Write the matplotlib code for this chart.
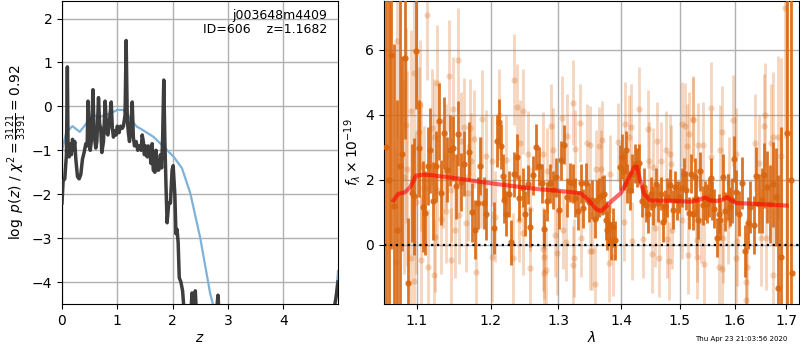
import numpy as np
import matplotlib
matplotlib.use("Agg")
import matplotlib.pyplot as plt
from matplotlib.ticker import FixedLocator, NullLocator, FormatStrFormatter

# ---------------- left panel: log p(z) ----------------
z_pz = [0.0, 0.02, 0.05, 0.08, 0.097, 0.11, 0.13, 0.15, 0.17, 0.19,
        0.21, 0.23, 0.25, 0.28, 0.31, 0.34, 0.37, 0.40, 0.43, 0.455,
        0.47, 0.49, 0.51, 0.53, 0.56, 0.58, 0.61, 0.63, 0.66, 0.68,
        0.70, 0.72, 0.75, 0.78, 0.81, 0.83, 0.86, 0.89, 0.91, 0.93,
        0.96, 0.98, 1.00, 1.03, 1.06, 1.09, 1.11, 1.14, 1.16, 1.18,
        1.20, 1.22, 1.24, 1.27, 1.29, 1.31, 1.34, 1.37, 1.40, 1.43,
        1.45, 1.47, 1.49, 1.51, 1.54, 1.56, 1.58, 1.61, 1.63, 1.65,
        1.68, 1.70, 1.72, 1.75, 1.78, 1.80, 1.82, 1.84, 1.86, 1.88,
        1.90, 1.93, 1.96, 1.99, 2.01, 2.04, 2.06, 2.08, 2.10, 2.12,
        2.15, 2.18, 2.21, 2.33, 2.35, 2.37, 2.39, 2.41, 2.43, 2.79,
        2.82, 2.84, 3.0, 4.0, 4.92, 4.955, 4.99]
logpz = [-2.2, -1.7, -1.65, -1.1, 0.9, -1.0, -1.15, -0.85, -1.1, -0.75,
         -1.0, -0.8, -1.2, -1.6, -1.65, -1.55, -1.2, -1.05, -0.85, -0.9,
         0.12, -0.6, -1.0, -0.8, 0.38, -0.6, -0.95, -0.8, 0.2, -0.4,
         -0.5, -1.05, -0.8, 0.12, -0.6, -0.65, -0.3, 0.1, -0.5, -0.7,
         -0.55, -0.65, -0.45, -0.6, -0.45, -0.5, -0.45, -0.2, 1.5, -0.3,
         -0.6, -0.8, -0.5, 0.1, -0.7, -0.9, -0.8, -1.0, -0.9, -1.0,
         -0.65, -0.8, -1.1, -0.9, -1.15, -0.9, -1.0, -1.3, -0.85, -1.45,
         -1.5, -1.0, -1.45, -1.45, -1.1, -1.4, -0.7, 0.6, -0.8, -1.8,
         -2.65, -2.2, -2.2, -1.45, -1.35, -2.0, -2.9, -2.8, -3.1, -3.9,
         -4.0, -4.2, -4.7, -4.7, -4.25, -4.7, -4.7, -4.2, -4.7, -4.7,
         -4.3, -4.7, -8.0, -8.0, -4.6, -4.35, -4.0]

z_prior = [0.0, 0.08, 0.19, 0.32, 0.44, 0.56, 0.68, 0.87, 1.00, 1.11,
           1.23, 1.35, 1.41, 1.65, 1.84, 2.02, 2.17, 2.32, 2.50, 2.68,
           2.75, 3.0, 4.0, 4.93, 4.96, 4.99]
logp_prior = [-1.0, -0.58, -0.45, -0.58, -0.39, -0.2, -0.24, -0.16, -0.08, -0.08,
              -0.27, -0.46, -0.5, -0.69, -0.92, -1.15, -1.41, -1.98, -3.0, -4.27,
              -4.6, -8.0, -8.0, -4.6, -4.2, -3.75]

# ---------------- right panel: spectrum ----------------
lam_dark = [1.0615, 1.0645, 1.0676, 1.0710, 1.0751, 1.0786, 1.0815, 1.0853, 1.0888, 1.0935,
            1.0969, 1.0995, 1.1034, 1.1078, 1.1112, 1.1144, 1.1178, 1.1217, 1.1257, 1.1297,
            1.1324, 1.1364, 1.1404, 1.1444, 1.1485, 1.1518, 1.1553, 1.1593, 1.1634, 1.1703,
            1.1744, 1.1786, 1.1828, 1.1855, 1.1904, 1.1940,
            1.2054, 1.2096, 1.2120, 1.2145, 1.2178, 1.2196, 1.2217, 1.2260, 1.2293, 1.2341,
            1.2380, 1.2414, 1.2464, 1.2502, 1.2538, 1.2576, 1.2621, 1.2665, 1.2706, 1.2751,
            1.2785, 1.2831, 1.2876, 1.2917, 1.2958, 1.3004, 1.3040, 1.3090, 1.3132, 1.3174,
            1.3225, 1.3261, 1.3303, 1.3351, 1.3387, 1.3429, 1.3472,
            1.3520, 1.3577, 1.3609, 1.3642, 1.3685, 1.3717, 1.3750, 1.3771, 1.3803, 1.3836,
            1.3868, 1.3896, 1.3978, 1.4007, 1.4044, 1.4078, 1.4099, 1.4144, 1.4183, 1.4228,
            1.4267, 1.4300, 1.4341, 1.4380, 1.4413, 1.4453, 1.4494, 1.4538, 1.4579, 1.4624,
            1.4665, 1.4700, 1.4740, 1.4780, 1.4827, 1.4874, 1.4915, 1.4955, 1.4990, 1.5033,
            1.5074, 1.5109, 1.5157, 1.5199, 1.5229,
            1.5265, 1.5294, 1.5330, 1.5366, 1.5415, 1.5457, 1.5488, 1.5525, 1.5567, 1.5585,
            1.5622, 1.5672, 1.5709, 1.5733, 1.5783, 1.5826, 1.5870, 1.5908, 1.5957, 1.5994,
            1.6032, 1.6083, 1.6146, 1.6198, 1.6255, 1.6299, 1.6364, 1.6415, 1.6467, 1.6520,
            1.6570, 1.6623, 1.6676, 1.6741, 1.6806, 1.6846, 1.6900, 1.7025, 1.7089, 1.7126]
flux_dark = [3.0, 2.0, 5.85, 1.18, 0.46, 2.41, 2.80, 5.74, -1.17, 1.59,
             1.49, 5.97, 2.96, 1.16, 0.97, 2.41, 2.90, 1.33, 2.41, 3.79,
             1.59, 3.44, 2.30, 2.90, 2.96, 1.79, 3.41, 1.92, 2.49, 2.86,
             0.99, 0.46, 1.28, 2.42, 1.28, 0.93,
             0.50, 3.20, 3.77, 3.02, 2.10, 1.36, 0.95, 1.55, 0.07, 2.16,
             2.71, 1.44, 1.75, 0.95, 1.85, 0.54, 2.13, 3.00, 2.41, 1.89,
             0.48, 1.33, 1.89, 1.68, 2.08, 1.07, 2.59, 3.08, 1.46, 1.92,
             1.89, 1.44, 1.04, 1.89, 1.12, 1.91, 1.31,
             1.38, 0.80, 1.38, 1.46, 1.52, 1.55, 0.75, 0.44, 0.62, 0.11,
             0.54, 0.13, 2.38, 2.71, 2.28, 2.90, 1.87, 1.67, 2.18, 2.49,
             2.38, 2.51, 1.34, 1.77, 1.21, 0.95, 1.57, 1.21, 1.85, 1.28,
             1.57, 0.69, 1.18, 1.46, 1.82, 1.07, 1.77, 1.36, 1.46, 1.75,
             2.18, 1.67, 0.97, 2.18, 0.95,
             2.08, 1.44, 0.77, 2.26, 1.21, 1.36, 1.26, 1.46, 2.06, 1.36,
             1.10, 0.21, 0.95, 0.75, 2.08, 1.02, 1.46, 1.17, 1.36, 2.64,
             1.61, 0.95, 1.89, -0.19, 0.67, 1.17, 0.60, 2.10, 1.26, 1.36,
             2.13, 1.77, 1.26, 1.85, 1.46, -1.35, -0.38, 3.43, 2.0, -0.87]
err_dark = [8.0, 8.0, 6.0, 5.0, 4.0, 6.0, 3.0, 2.5, 2.0, 1.5,
            1.8, 1.8, 1.5, 1.4, 1.3, 1.2, 1.3, 1.2, 1.1, 1.2,
            1.0, 1.1, 1.0, 1.1, 1.0, 1.0, 1.0, 0.9, 1.0, 0.9,
            0.9, 0.9, 0.8, 0.9, 0.8, 0.8,
            0.8, 0.8, 0.7, 0.7, 0.7, 0.7, 0.7, 0.7, 0.7, 0.7,
            0.7, 0.7, 0.6, 0.7, 0.6, 0.6, 0.6, 0.7, 0.6, 0.6,
            0.6, 0.6, 0.6, 0.6, 0.6, 0.6, 0.6, 0.6, 0.6, 0.6,
            0.6, 0.6, 0.6, 0.6, 0.6, 0.6, 0.6,
            0.6, 0.6, 0.6, 0.6, 0.6, 0.6, 0.6, 0.6, 0.6, 0.6,
            0.6, 0.6, 0.7, 0.7, 0.6, 0.6, 0.6, 0.6, 0.6, 0.6,
            0.6, 0.6, 0.5, 0.6, 0.5, 0.6, 0.5, 0.6, 0.5, 0.6,
            0.5, 0.6, 0.5, 0.6, 0.5, 0.6, 0.5, 0.6, 0.5, 0.6,
            0.5, 0.6, 0.5, 0.6, 0.5,
            0.6, 0.6, 0.6, 0.6, 0.6, 0.6, 0.6, 0.6, 0.6, 0.6,
            0.6, 0.6, 0.6, 0.6, 0.7, 0.6, 0.7, 0.6, 0.7, 0.7,
            0.7, 0.7, 0.8, 0.8, 0.8, 0.8, 0.9, 0.9, 0.9, 1.0,
            1.0, 1.1, 1.2, 1.3, 1.5, 3.5, 4.0, 9.0, 10.0, 0.0]

lam_light = [1.1139, 1.0744, 1.0965, 1.1269, 1.1553, 1.1427, 1.0930, 1.1043, 1.1485, 1.1882,
             1.0858, 1.1203, 1.1628, 1.1711, 1.1382, 1.1929, 1.0879, 1.1060, 1.1720, 1.0836,
             1.1449, 1.1261, 1.1390, 1.1562, 1.1324, 1.1504, 1.1651, 1.1235, 1.0735, 1.0930,
             1.1060, 1.1151, 1.1457, 1.1794, 1.1230, 1.0960, 1.1026, 1.1226, 1.1584, 1.1763,
             1.1095, 1.1680, 1.1860, 1.1343, 1.0987,
             1.2341, 1.2386, 1.2464, 1.2118, 1.3219, 1.3330, 1.2890, 1.3132, 1.2430, 1.3446,
             1.3490, 1.3061, 1.2912, 1.3261, 1.2541, 1.2760, 1.2019, 1.2221, 1.2823, 1.2576,
             1.2414, 1.2062, 1.2468, 1.2942, 1.3075, 1.3351, 1.3117, 1.2762, 1.2785, 1.3245,
             1.2971, 1.2572, 1.2812, 1.2778, 1.3230, 1.2015, 1.2318, 1.3496,
             1.4300, 1.4055, 1.4155, 1.4453, 1.5033, 1.5088, 1.3640, 1.3677, 1.3950, 1.4130,
             1.4607, 1.4827, 1.4760, 1.5128, 1.5163, 1.5229, 1.3584, 1.3668, 1.4470, 1.4668,
             1.4839, 1.3814, 1.4538, 1.4049, 1.4368, 1.4176, 1.4568, 1.4780, 1.4862, 1.5040,
             1.3530, 1.3794, 1.3858, 1.4511, 1.4642, 1.4810, 1.5145, 1.3570,
             1.5567, 1.5238, 1.5975, 1.5766, 1.6570, 1.6584, 1.6393, 1.6697, 1.6741, 1.6839,
             1.5415, 1.5315, 1.5733, 1.5560, 1.6020, 1.6905, 1.6970, 1.5894, 1.6467, 1.5294,
             1.5378, 1.5876, 1.5306, 1.5783, 1.6045, 1.6508, 1.6604, 1.5300, 1.5428, 1.5700,
             1.5763, 1.6032, 1.6230, 1.6218, 1.6208, 1.6741]
flux_light = [7.07, 6.28, 5.27, 4.97, 5.68, 5.20, 4.10, 4.31, 4.18, 3.87,
              3.67, 3.60, 3.63, 3.60, 2.74, 2.74, 2.33, 2.41, 2.56, 2.08,
              1.68, 1.68, 1.02, 0.90, 0.80, 0.46, 0.66, 0.23, -0.53, -0.40,
              -0.48, -0.69, -0.48, -0.85, -0.94, -1.12, 3.46, 3.30, 3.20, 3.25,
              1.74, 1.60, 1.91, 2.20, 1.30,
              5.07, 4.25, 4.10, 4.00, 4.37, 3.75, 3.65, 3.35, 3.14, 3.14,
              3.08, 3.90, 2.92, 2.94, 2.80, 2.78, 2.58, 2.60, 2.28, 1.10,
              0.75, 0.85, 0.36, 0.29, 0.44, 0.21, 0.08, -0.13, -0.38, -0.42,
              -0.25, -0.71, -0.79, -0.89, -0.63, -0.38, -0.42, -0.20,
              4.18, 3.70, 3.63, 3.57, 3.70, 3.66, 3.04, 3.22, 3.16, 3.30,
              3.20, 2.78, 2.92, 3.02, 3.40, 3.85, 2.33, 2.33, 2.58, 2.58,
              2.49, 2.18, 2.38, 0.69, 0.18, 0.11, 0.50, 0.17, 0.46, 0.75,
              -0.19, -0.58, -0.38, -0.28, -0.40, -0.50, -0.33, -1.20,
              4.21, 3.88, 3.83, 3.48, 3.65, 3.98, 3.14, 3.14, 3.32, 3.32,
              3.08, 3.06, 2.90, 2.71, 2.80, 2.74, 7.28, 1.90, 2.50, 1.02,
              0.72, 0.80, 0.15, 0.21, 0.11, 0.21, 0.21, -0.38, -0.60, -0.68,
              -0.74, -0.40, -0.68, -1.15, -1.70, -0.95]
err_light = [2.0, 3.0, 2.5, 1.8, 1.6, 1.7, 2.5, 2.0, 1.6, 1.5,
             3.0, 1.8, 1.5, 1.5, 1.6, 1.4, 3.0, 2.0, 1.5, 3.0,
             1.6, 1.7, 1.6, 1.5, 1.7, 1.5, 1.5, 1.7, 3.5, 2.5,
             2.0, 1.8, 1.6, 1.4, 1.7, 2.5, 2.0, 1.8, 1.5, 1.5,
             1.9, 1.5, 1.4, 1.7, 2.2,
             1.4, 1.3, 1.3, 1.4, 1.3, 1.2, 1.3, 1.3, 1.3, 1.2,
             1.2, 1.3, 1.3, 1.2, 1.3, 1.3, 1.4, 1.4, 1.3, 1.3,
             1.3, 1.4, 1.3, 1.3, 1.2, 1.2, 1.2, 1.3, 1.3, 1.2,
             1.3, 1.3, 1.3, 1.3, 1.2, 1.4, 1.4, 1.2,
             1.3, 1.3, 1.3, 1.2, 1.3, 1.3, 1.2, 1.2, 1.2, 1.3,
             1.2, 1.2, 1.2, 1.3, 1.3, 1.3, 1.2, 1.2, 1.2, 1.2,
             1.2, 1.2, 1.2, 1.2, 1.2, 1.2, 1.2, 1.2, 1.2, 1.2,
             1.2, 1.2, 1.2, 1.2, 1.2, 1.2, 1.2, 1.2,
             1.4, 1.3, 1.4, 1.4, 1.6, 1.6, 1.5, 1.8, 2.0, 2.5,
             1.3, 1.3, 1.4, 1.4, 1.4, 3.0, 4.0, 1.4, 1.5, 1.3,
             1.3, 1.4, 1.3, 1.4, 1.4, 1.5, 1.6, 1.3, 1.3, 1.4,
             1.4, 1.4, 1.5, 1.5, 1.5, 2.0]

lam_model = [1.0703, 1.0763, 1.0849, 1.0914, 1.0991, 1.1086, 1.1173, 1.1526, 1.1992, 1.2478,
             1.2729, 1.2983, 1.3346, 1.3476, 1.3584, 1.3664, 1.3745, 1.3853, 1.3989, 1.4100,
             1.4212, 1.4258, 1.4313, 1.4380, 1.4480, 1.4870, 1.5180, 1.5330, 1.5450, 1.5540,
             1.5660, 1.5784, 1.5858, 1.5940, 1.6035, 1.6420, 1.7010]
flux_model = [1.36, 1.56, 1.61, 1.76, 2.12, 2.15, 2.14, 2.04, 1.89, 1.76,
              1.70, 1.66, 1.58, 1.36, 1.10, 1.03, 1.16, 1.36, 1.58, 1.97,
              2.38, 2.40, 1.97, 1.56, 1.36, 1.35, 1.32, 1.37, 1.45, 1.36,
              1.34, 1.39, 1.46, 1.36, 1.28, 1.25, 1.20]

lam_ticks = [1.1, 1.2, 1.3, 1.4, 1.5, 1.6, 1.7]
title_text = "j003648m4409\nID=606    z=1.1682"
stamp_text = "Thu Apr 23 21:03:56 2020"

ORANGE = "#d9660f"

fig = plt.figure(figsize=(8, 3.5), dpi=100)

# Left panel
ax1 = fig.add_axes([62 / 800, 46 / 350, 276 / 800, 303 / 350])
ax1.plot(z_pz, logpz, color="#333333", lw=2.5, alpha=0.95, zorder=3)
ax1.plot(z_prior, logp_prior, color="#7fb2d8", lw=1.6, zorder=2)
ax1.set_xlim(0, 4.99)
ax1.set_ylim(-4.5, 2.4)
ax1.set_xticks([0, 1, 2, 3, 4])
ax1.set_yticks([-4, -3, -2, -1, 0, 1, 2])
ax1.grid(True, color="#b0b0b0", lw=1)
ax1.set_axisbelow(True)
ax1.set_xlabel(r"$z$", fontsize=10, labelpad=2)
ax1.set_ylabel(r"$\log\ p(z)$ / $\chi^2=\frac{3121}{3391}=0.92$", fontsize=10, labelpad=2)
ax1.text(0.96, 0.975, title_text, transform=ax1.transAxes, ha="right", va="top",
         fontsize=9, linespacing=1.1)

# Right panel
ax2 = fig.add_axes([384 / 800, 46 / 350, 415 / 800, 303 / 350])
ax2.set_xscale("log")
ax2.errorbar(lam_light, flux_light, yerr=err_light, fmt="o", color=ORANGE,
             alpha=0.27, ms=4.5, elinewidth=2, capsize=0, mew=0, zorder=2)
ax2.errorbar(lam_dark, flux_dark, yerr=err_dark, fmt="o", color=ORANGE,
             alpha=0.9, ms=4.5, elinewidth=2, capsize=0, mew=0, zorder=3)
ax2.plot(lam_model, flux_model, color="red", lw=3, alpha=0.6, zorder=4)
ax2.axhline(0, color="black", ls=":", lw=1.6, zorder=5)
ax2.set_xlim(1.0584, 1.726)
ax2.set_ylim(-1.83, 7.5)
ax2.xaxis.set_major_locator(FixedLocator(lam_ticks))
ax2.xaxis.set_minor_locator(NullLocator())
ax2.xaxis.set_major_formatter(FormatStrFormatter("%.1f"))
ax2.set_yticks([0, 2, 4, 6])
ax2.grid(True, color="#b0b0b0", lw=1)
ax2.set_axisbelow(True)
ax2.set_xlabel(r"$\lambda$", fontsize=10, labelpad=2)
ax2.set_ylabel(r"$f_\lambda \times 10^{-19}$", fontsize=10, labelpad=2)

fig.text(787 / 800, 8 / 350, stamp_text, ha="right", va="bottom", fontsize=5)

fig.savefig("out.png", dpi=100)
